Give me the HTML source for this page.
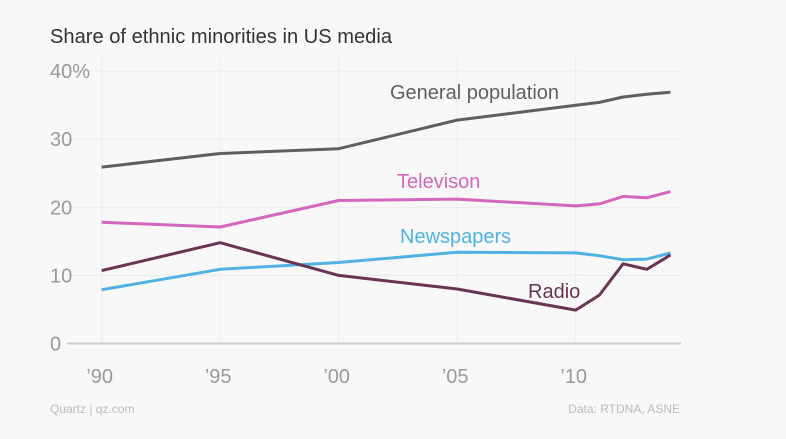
<!DOCTYPE html>
<html><head><meta charset="utf-8"><style>
html,body{margin:0;padding:0;background:#f8f8f8;}
svg{display:block;font-family:"Liberation Sans",sans-serif;}
</style></head><body>
<svg id="chart" width="786" height="439" viewBox="0 0 786 439">
<rect width="786" height="439" fill="#f8f8f8"/>
<text x="50" y="43" font-size="20" fill="#333" textLength="342" lengthAdjust="spacingAndGlyphs">Share of ethnic minorities in US media</text>
<g id="grid"></g><g id="series"></g><g id="labels"></g>
<text x="50" y="413" font-size="12" fill="#bbb">Quartz | qz.com</text>
<text x="680" y="413" font-size="12" fill="#bbb" text-anchor="end">Data: RTDNA, ASNE</text>
</svg>
<script>
const years=[1990,1995,2000,2005,2010,2011,2012,2013,2014];
const general=[25.9,27.9,28.6,32.8,35.0,35.4,36.2,36.6,36.9];
const television=[17.8,17.1,21.0,21.2,20.2,20.5,21.6,21.4,22.3];
const newspapers=[7.9,10.9,11.9,13.4,13.3,12.9,12.3,12.4,13.3];
const radio=[10.7,14.8,10.0,8.0,4.9,7.1,11.7,10.9,13.0];
const yTicks=[0,10,20,30,40];
const yTickLabels=["0","10","20","30","40%"];
const xTicks=[1990,1995,2000,2005,2010];
const xTickLabels=["\u201990","\u201995","\u201900","\u201905","\u201910"];
const NS="http://www.w3.org/2000/svg";
const x=v=>101.7+(v-1990)*23.7;
const y=v=>343.5-v*6.81;
function mk(tag,attrs,parent){const e=document.createElementNS(NS,tag);for(const k in attrs)e.setAttribute(k,attrs[k]);parent.appendChild(e);return e;}
const grid=document.getElementById('grid'),ser=document.getElementById('series'),lab=document.getElementById('labels');
yTicks.forEach((t,i)=>{
  const l=mk('line',{x1:67,x2:681,y1:y(t),y2:y(t),stroke:t===0?'#ccc':'#ebebeb','stroke-width':t===0?2:1},grid);
  
  
  const tx=mk('text',{x:50,y:y(t)+7,'font-size':20,fill:'#999'},grid);
  tx.textContent=yTickLabels[i];
  
  
});
xTicks.forEach((t,i)=>{
  const l=mk('line',{x1:x(t),x2:x(t),y1:56,y2:343,stroke:'#ebebeb','stroke-width':1},grid);
  
  
  const tx=mk('text',{x:x(t)-2,y:383,'font-size':20,fill:'#999','text-anchor':'middle'},grid);
  tx.textContent=xTickLabels[i];
  
  
});
const defs=[
  [general,'#5f5f5f','general-population-line','General population',390,99,'#5f5f5f'],
  [television,'#d267bd','television-line','Televison',397,188,'#d267bd'],
  [newspapers,'#4fb2e3','newspapers-line','Newspapers',400,243,'#4fb2e3'],
  [radio,'#6a3454','radio-line','Radio',528,298,'#6a3454']
];
defs.forEach(d=>{
  const pts=years.map((yr,i)=>x(yr).toFixed(1)+','+y(d[0][i]).toFixed(1)).join(' ');
  const p=mk('polyline',{points:pts,fill:'none',stroke:d[1],'stroke-width':3,'stroke-linejoin':'round'},ser);
  
  
  const t=mk('text',{x:d[4],y:d[5],'font-size':20,fill:d[6]},lab);
  t.textContent=d[3];
  
  
});
</script>
</body></html>
